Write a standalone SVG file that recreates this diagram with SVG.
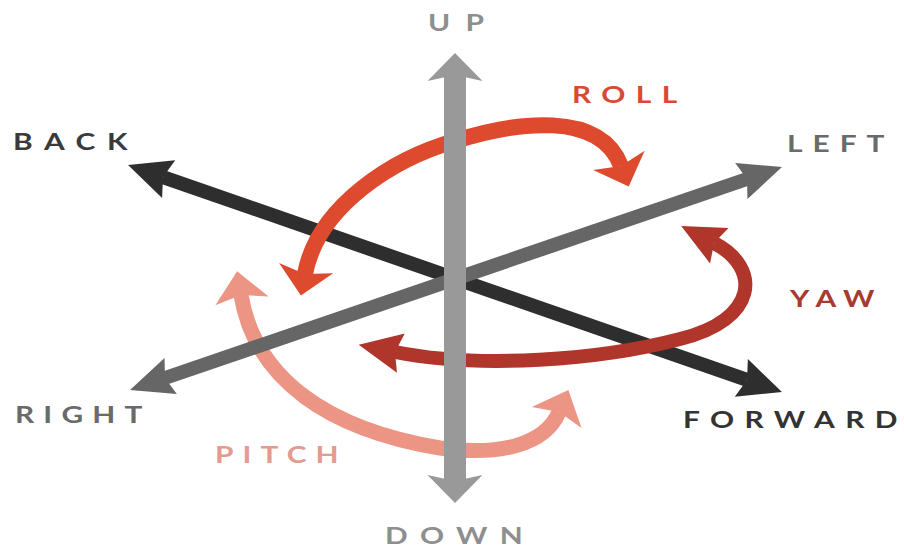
<svg xmlns="http://www.w3.org/2000/svg" width="904" height="550" viewBox="0 0 904 550">
  <style>
    .lbl { font-family: Lato, "Open Sans", "DejaVu Sans", sans-serif; font-size: 23px; font-weight: bold; }
    .axis { fill: none; stroke-linecap: butt; }
    .arc { fill: none; stroke-linecap: butt; }
  </style>
  <defs>
    <marker id="hV" markerUnits="userSpaceOnUse" orient="auto-start-reverse" markerWidth="80" markerHeight="80" refX="0" refY="0" viewBox="-40 -40 80 80" overflow="visible">
      <path d="M22 0 L-6 -27.5 L0 0 L-6 27.5 Z" fill="#999999"/>
    </marker>
    <marker id="hDark" markerUnits="userSpaceOnUse" orient="auto-start-reverse" markerWidth="80" markerHeight="80" refX="0" refY="0" viewBox="-40 -40 80 80" overflow="visible">
      <path d="M37 0 L-6 -20 L0 0 L-6 20 Z" fill="#2e2e2e"/>
    </marker>
    <marker id="hGray" markerUnits="userSpaceOnUse" orient="auto-start-reverse" markerWidth="80" markerHeight="80" refX="0" refY="0" viewBox="-40 -40 80 80" overflow="visible">
      <path d="M37 0 L-6 -19 L0 0 L-6 19 Z" fill="#666666"/>
    </marker>
    <marker id="hRoll" markerUnits="userSpaceOnUse" orient="auto-start-reverse" markerWidth="80" markerHeight="80" refX="0" refY="0" viewBox="-40 -40 80 80" overflow="visible">
      <path d="M22 0 L-6 -27.5 L0 0 L-6 27.5 Z" fill="#dd4a2e"/>
    </marker>
    <marker id="hYaw" markerUnits="userSpaceOnUse" orient="auto-start-reverse" markerWidth="80" markerHeight="80" refX="0" refY="0" viewBox="-40 -40 80 80" overflow="visible">
      <path d="M37 0 L-6 -20 L0 0 L-6 20 Z" fill="#b0352a"/>
    </marker>
    <marker id="hPitch" markerUnits="userSpaceOnUse" orient="auto-start-reverse" markerWidth="80" markerHeight="80" refX="0" refY="0" viewBox="-40 -40 80 80" overflow="visible">
      <path d="M24 0 L-6 -27 L0 0 L-6 27 Z" fill="#ec9585"/>
    </marker>
  </defs>
  <rect width="904" height="550" fill="#ffffff"/>

  <g id="connectors">
    <path id="axis-back-forward" class="axis" d="M163 177.1 L747 379.9" stroke="#2e2e2e" stroke-width="14" marker-start="url(#hDark)" marker-end="url(#hDark)"/>
    <path id="roll-arc" class="arc" d="M305 274 C318 205 395 158 455 141 C515 122 600 110 621 166" stroke="#dd4a2e" stroke-width="16" marker-start="url(#hRoll)" marker-end="url(#hRoll)"/>
    <path id="yaw-arc" class="arc" d="M714 243 C762 268 758 320 680 339 C600 360 480 369 395 352" stroke="#b0352a" stroke-width="14" marker-start="url(#hYaw)" marker-end="url(#hYaw)"/>
    <path id="pitch-arc" class="arc" d="M241 295 C255 380 330 430 440 448 C500 456 545 445 559 412" stroke="#ec9585" stroke-width="15" marker-start="url(#hPitch)" marker-end="url(#hPitch)"/>
    <path id="axis-right-left" class="axis" d="M165 378 L747 179" stroke="#666666" stroke-width="14" marker-start="url(#hGray)" marker-end="url(#hGray)"/>
    <path id="axis-up-down" class="axis" d="M455 75 L455 481" stroke="#999999" stroke-width="22" marker-start="url(#hV)" marker-end="url(#hV)"/>
  </g>

  <g id="up" transform="translate(428 31) scale(1.3 1)"><text class="lbl" x="0" y="0" textLength="43" lengthAdjust="spacing" fill="#8e8e8e">UP</text></g>
  <g id="down" transform="translate(385 544) scale(1.3 1)"><text class="lbl" x="0" y="0" textLength="106" lengthAdjust="spacing" fill="#8e8e8e">DOWN</text></g>
  <g id="back" transform="translate(13 150) scale(1.3 1)"><text class="lbl" x="0" y="0" textLength="88" lengthAdjust="spacing" fill="#3a3a3a">BACK</text></g>
  <g id="forward" transform="translate(683 428) scale(1.3 1)"><text class="lbl" x="0" y="0" textLength="165" lengthAdjust="spacing" fill="#333333">FORWARD</text></g>
  <g id="left" transform="translate(787 152) scale(1.3 1)"><text class="lbl" x="0" y="0" textLength="75" lengthAdjust="spacing" fill="#6a6a6a">LEFT</text></g>
  <g id="right" transform="translate(15 423) scale(1.3 1)"><text class="lbl" x="0" y="0" textLength="98" lengthAdjust="spacing" fill="#6a6a6a">RIGHT</text></g>
  <g id="roll" transform="translate(572 103) scale(1.3 1)"><text class="lbl" x="0" y="0" textLength="81" lengthAdjust="spacing" fill="#d94a35">ROLL</text></g>
  <g id="yaw" transform="translate(790 307) scale(1.3 1)"><text class="lbl" x="0" y="0" textLength="65" lengthAdjust="spacing" fill="#a83a30">YAW</text></g>
  <g id="pitch" transform="translate(215 463) scale(1.3 1)"><text class="lbl" x="0" y="0" textLength="95" lengthAdjust="spacing" fill="#e39a8f">PITCH</text></g>
</svg>
